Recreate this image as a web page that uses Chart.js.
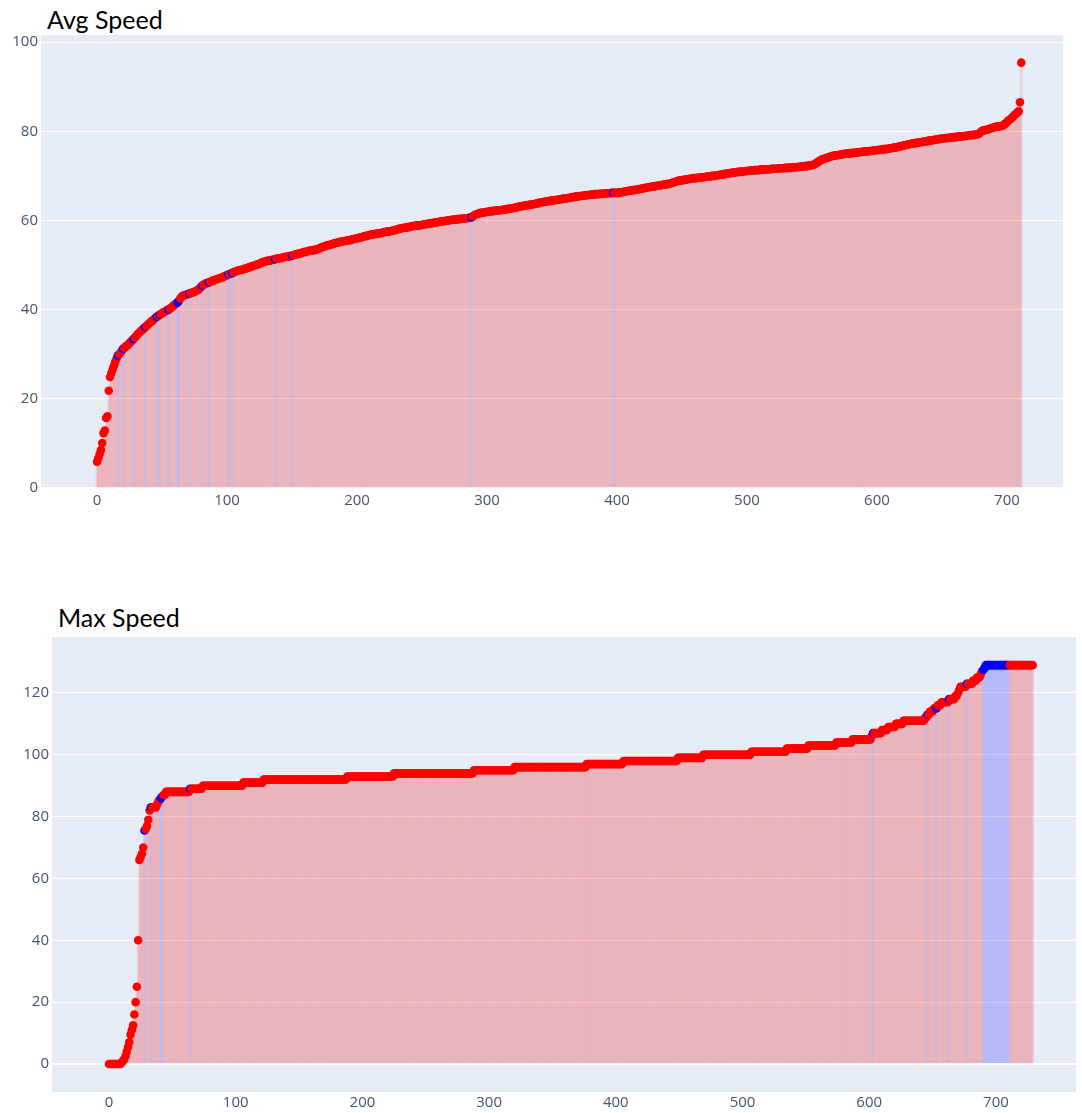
<!DOCTYPE html>
<html>
<head>
<meta charset="utf-8">
<title>Avg Speed / Max Speed</title>
<script src="https://cdn.jsdelivr.net/npm/chart.js@4.4.1/dist/chart.umd.min.js"></script>
<style>
  html, body { margin: 0; padding: 0; background: #ffffff; width: 1082px; height: 1113px; overflow: hidden; }
  canvas { position: absolute; left: 0; }
  .title { position: absolute; font-family: Lato, "Open Sans", sans-serif; font-size: 25px; line-height: 1; color: #000000; white-space: nowrap; }
</style>
</head>
<body>
<div class="title" style="left:47px; top:7px;">Avg Speed</div>
<canvas id="avgChart" width="1082" height="520" style="top:0px;"></canvas>
<div class="title" style="left:58px; top:605px;">Max Speed</div>
<canvas id="maxChart" width="1082" height="553" style="top:560px;"></canvas>
<script>
// Average speed per record, sorted ascending
const avgSpeed = [
5.9,6.7,7.6,8.5,10.1,12.3,12.9,15.7,16.1,21.8,
24.9,25.8,26.6,27.4,28.3,29.0,29.7,30.0,30.4,30.8,
31.2,31.4,31.7,31.9,32.2,32.5,32.8,33.1,33.4,33.7,
34.0,34.4,34.7,35.0,35.3,35.5,35.8,36.1,36.3,36.6,
36.9,37.1,37.4,37.6,37.9,38.2,38.4,38.6,38.8,39.0,
39.2,39.4,39.5,39.7,39.9,40.0,40.2,40.4,40.7,40.9,
41.2,41.4,41.6,42.0,42.5,42.9,43.1,43.2,43.3,43.4,
43.5,43.6,43.7,43.8,43.9,44.0,44.2,44.3,44.5,44.8,
45.1,45.4,45.6,45.8,45.9,46.0,46.1,46.2,46.4,46.5,
46.6,46.7,46.8,46.9,47.0,47.1,47.2,47.3,47.5,47.6,
47.7,47.9,48.0,48.1,48.2,48.4,48.5,48.6,48.7,48.8,
48.9,48.9,49.0,49.1,49.2,49.3,49.4,49.5,49.6,49.7,
49.8,49.9,50.0,50.1,50.2,50.3,50.4,50.6,50.7,50.8,
50.9,50.9,51.0,51.0,51.1,51.2,51.2,51.3,51.4,51.5,
51.5,51.6,51.6,51.7,51.8,51.8,51.9,51.9,52.0,52.0,
52.1,52.2,52.3,52.4,52.5,52.5,52.6,52.7,52.8,52.9,
52.9,53.0,53.1,53.2,53.2,53.3,53.3,53.4,53.4,53.5,
53.6,53.7,53.9,54.0,54.1,54.2,54.3,54.4,54.5,54.5,
54.6,54.7,54.8,54.9,55.0,55.0,55.1,55.2,55.3,55.3,
55.4,55.4,55.5,55.5,55.6,55.6,55.7,55.8,55.9,55.9,
56.0,56.1,56.1,56.2,56.3,56.4,56.5,56.5,56.6,56.7,
56.8,56.8,56.9,56.9,57.0,57.0,57.1,57.1,57.2,57.2,
57.3,57.4,57.4,57.5,57.5,57.6,57.6,57.7,57.8,57.8,
57.9,58.0,58.1,58.2,58.2,58.3,58.3,58.4,58.4,58.5,
58.5,58.6,58.7,58.7,58.8,58.8,58.9,58.9,58.9,59.0,
59.0,59.1,59.1,59.2,59.2,59.3,59.3,59.4,59.4,59.5,
59.5,59.6,59.6,59.7,59.7,59.8,59.8,59.9,59.9,60.0,
60.0,60.0,60.1,60.1,60.2,60.2,60.2,60.3,60.3,60.3,
60.4,60.4,60.4,60.5,60.5,60.5,60.6,60.6,60.7,60.9,
61.1,61.3,61.4,61.5,61.6,61.7,61.7,61.8,61.8,61.9,
61.9,62.0,62.0,62.1,62.1,62.1,62.2,62.2,62.2,62.3,
62.3,62.3,62.4,62.4,62.5,62.5,62.6,62.6,62.7,62.7,
62.8,62.8,62.9,63.0,63.0,63.1,63.2,63.2,63.3,63.3,
63.4,63.4,63.5,63.5,63.6,63.6,63.7,63.7,63.8,63.9,
63.9,64.0,64.1,64.1,64.2,64.2,64.3,64.3,64.4,64.4,
64.5,64.5,64.6,64.6,64.6,64.7,64.7,64.8,64.8,64.9,
64.9,65.0,65.0,65.1,65.1,65.2,65.2,65.3,65.3,65.4,
65.4,65.5,65.5,65.5,65.6,65.6,65.6,65.7,65.7,65.7,
65.8,65.8,65.8,65.9,65.9,65.9,65.9,66.0,66.0,66.0,
66.0,66.1,66.1,66.1,66.1,66.1,66.2,66.2,66.2,66.2,
66.2,66.2,66.3,66.3,66.4,66.4,66.5,66.5,66.6,66.6,
66.7,66.7,66.8,66.8,66.9,66.9,67.0,67.0,67.1,67.1,
67.2,67.3,67.3,67.4,67.4,67.5,67.5,67.6,67.6,67.7,
67.7,67.8,67.8,67.9,67.9,68.0,68.0,68.1,68.1,68.2,
68.2,68.3,68.4,68.5,68.6,68.7,68.8,68.9,69.0,69.0,
69.0,69.1,69.1,69.2,69.2,69.3,69.3,69.4,69.4,69.5,
69.5,69.5,69.6,69.6,69.6,69.7,69.7,69.7,69.8,69.8,
69.8,69.9,69.9,70.0,70.0,70.0,70.1,70.1,70.2,70.2,
70.3,70.3,70.4,70.4,70.5,70.5,70.6,70.6,70.7,70.7,
70.8,70.8,70.8,70.9,70.9,70.9,71.0,71.0,71.0,71.1,
71.1,71.1,71.2,71.2,71.2,71.2,71.3,71.3,71.3,71.3,
71.4,71.4,71.4,71.4,71.5,71.5,71.5,71.5,71.5,71.6,
71.6,71.6,71.6,71.6,71.7,71.7,71.7,71.7,71.7,71.8,
71.8,71.8,71.8,71.8,71.9,71.9,71.9,71.9,72.0,72.0,
72.0,72.1,72.1,72.1,72.2,72.2,72.2,72.3,72.3,72.4,
72.4,72.5,72.6,72.8,73.0,73.2,73.4,73.6,73.7,73.8,
73.9,74.0,74.1,74.2,74.3,74.4,74.5,74.5,74.6,74.6,
74.7,74.7,74.8,74.8,74.9,74.9,75.0,75.0,75.0,75.1,
75.1,75.1,75.2,75.2,75.2,75.3,75.3,75.3,75.4,75.4,
75.4,75.5,75.5,75.5,75.6,75.6,75.6,75.7,75.7,75.7,
75.8,75.8,75.8,75.9,75.9,76.0,76.0,76.0,76.1,76.1,
76.2,76.2,76.3,76.3,76.4,76.4,76.5,76.6,76.6,76.7,
76.8,76.8,76.9,77.0,77.0,77.1,77.2,77.2,77.3,77.3,
77.4,77.4,77.5,77.5,77.6,77.6,77.7,77.7,77.8,77.8,
77.9,77.9,78.0,78.0,78.1,78.1,78.2,78.2,78.3,78.3,
78.4,78.4,78.4,78.5,78.5,78.5,78.6,78.6,78.6,78.7,
78.7,78.7,78.8,78.8,78.8,78.9,78.9,78.9,79.0,79.0,
79.0,79.1,79.1,79.1,79.2,79.2,79.3,79.3,79.4,79.6,
79.9,80.1,80.2,80.3,80.3,80.4,80.5,80.6,80.7,80.8,
80.9,81.0,81.0,81.1,81.1,81.2,81.2,81.3,81.5,81.8,
82.1,82.4,82.6,82.8,83.1,83.4,83.7,83.9,84.2,84.5,
86.5,95.4
];
// Records flagged in blue on the Avg Speed chart
const avgFlagged = [16, 20, 28, 37, 46, 48, 55, 62, 63, 71, 81, 86, 101, 104, 137, 150, 288, 397];

// Maximum speed per record, sorted ascending
const maxSpeed = [
0,0,0,0,0,0,0,0,0,0,
0.5,1,1.5,2.5,4,5.5,7,9.5,11,12.5,
16,20,25,40,66,67,68,70,75.5,76,
77,79,82,83,83,83,83,83,84,85,
85.5,86,86.5,87,87,88,88,88,88,88,
88,88,88,88,88,88,88,88,88,88,
88,88,88,88,89,89,89,89,89,89,
89,89,89,89,90,90,90,90,90,90,
90,90,90,90,90,90,90,90,90,90,
90,90,90,90,90,90,90,90,90,90,
90,90,90,90,90,90,91,91,91,91,
91,91,91,91,91,91,91,91,91,91,
91,91,92,92,92,92,92,92,92,92,
92,92,92,92,92,92,92,92,92,92,
92,92,92,92,92,92,92,92,92,92,
92,92,92,92,92,92,92,92,92,92,
92,92,92,92,92,92,92,92,92,92,
92,92,92,92,92,92,92,92,92,92,
92,92,92,92,92,92,92,92,93,93,
93,93,93,93,93,93,93,93,93,93,
93,93,93,93,93,93,93,93,93,93,
93,93,93,93,93,93,93,93,93,93,
93,93,93,93,93,94,94,94,94,94,
94,94,94,94,94,94,94,94,94,94,
94,94,94,94,94,94,94,94,94,94,
94,94,94,94,94,94,94,94,94,94,
94,94,94,94,94,94,94,94,94,94,
94,94,94,94,94,94,94,94,94,94,
94,94,94,94,94,94,94,94,95,95,
95,95,95,95,95,95,95,95,95,95,
95,95,95,95,95,95,95,95,95,95,
95,95,95,95,95,95,95,95,95,95,
96,96,96,96,96,96,96,96,96,96,
96,96,96,96,96,96,96,96,96,96,
96,96,96,96,96,96,96,96,96,96,
96,96,96,96,96,96,96,96,96,96,
96,96,96,96,96,96,96,96,96,96,
96,96,96,96,96,96,96,97,97,97,
97,97,97,97,97,97,97,97,97,97,
97,97,97,97,97,97,97,97,97,97,
97,97,97,97,97,97,98,98,98,98,
98,98,98,98,98,98,98,98,98,98,
98,98,98,98,98,98,98,98,98,98,
98,98,98,98,98,98,98,98,98,98,
98,98,98,98,98,98,98,98,98,99,
99,99,99,99,99,99,99,99,99,99,
99,99,99,99,99,99,99,99,99,100,
100,100,100,100,100,100,100,100,100,100,
100,100,100,100,100,100,100,100,100,100,
100,100,100,100,100,100,100,100,100,100,
100,100,100,100,100,100,100,101,101,101,
101,101,101,101,101,101,101,101,101,101,
101,101,101,101,101,101,101,101,101,101,
101,101,101,101,101,102,102,102,102,102,
102,102,102,102,102,102,102,102,102,102,
102,102,103,103,103,103,103,103,103,103,
103,103,103,103,103,103,103,103,103,103,
103,103,103,103,104,104,104,104,104,104,
104,104,104,104,104,104,104,105,105,105,
105,105,105,105,105,105,105,105,105,105,
105,105,106,107,107,107,107,107,107,107,
108,108,108,108,108,109,109,109,109,109,
109,110,110,110,110,110,110,111,111,111,
111,111,111,111,111,111,111,111,111,111,
111,111,111,111,112,112,113,113,114,114,
114,115,115,115,116,116,116,117,117,117,
117,117,117,118,118,118,118,118,119,119,
120,121,122,122,122,122,122,123,123,123,
123,123,124,124,124,125,125,125,126,127,
127.5,128,129,129,129,129,129,129,129,129,
129,129,129,129,129,129,129,129,129,129,
129,129,129,129,129,129,129,129,129,129,
129,129,129,129,129,129,129,129,129,129
];
// Records flagged in blue on the Max Speed chart
const maxFlagged = [28, 33, 41, 42, 64, 603, 646, 653, 663, 677, 690, 691,
  692, 693, 694, 695, 696, 697, 698, 699, 700, 701, 702, 703, 704, 705, 706, 707, 708, 709, 710];

// Tick labels along each axis
const xTicks = [0, 100, 200, 300, 400, 500, 600, 700];
const avgYTicks = [0, 20, 40, 60, 80, 100];
const maxYTicks = [0, 20, 40, 60, 80, 100, 120];

const PLOT_BG = '#E5ECF6';
const TICK_COLOR = '#44556f';
const TICK_FONT = { family: '"Open Sans", "DejaVu Sans", sans-serif', size: 15 };

// Paints the plot-area background behind grid and marks
const plotBackground = {
  id: 'plotBackground',
  beforeDraw(chart) {
    const { ctx, chartArea: a } = chart;
    ctx.save();
    ctx.fillStyle = PLOT_BG;
    ctx.fillRect(a.left, a.top, a.right - a.left, a.bottom - a.top);
    ctx.restore();
  }
};

function lollipopChart(canvas, values, flagged, yTicks, frame) {
  const marked = new Set(flagged);
  const points = values.map((v, i) => ({ x: i, y: v }));
  const stemColors = values.map((v, i) => marked.has(i) ? 'rgba(0,0,255,0.11)' : 'rgba(255,0,0,0.12)');
  const dotColors = values.map((v, i) => marked.has(i) ? '#0000ff' : '#ff0000');

  return new Chart(canvas, {
    type: 'bar',
    data: {
      datasets: [
        {
          type: 'scatter',
          data: points,
          showLine: false,
          pointRadius: 4.3,
          pointHoverRadius: 4.3,
          pointBorderWidth: 0,
          pointBackgroundColor: dotColors,
          order: 0
        },
        {
          type: 'bar',
          data: points,
          backgroundColor: stemColors,
          borderWidth: 0,
          barThickness: 2,
          grouped: false,
          order: 1
        }
      ]
    },
    options: {
      responsive: false,
      animation: false,
      events: [],
      layout: { padding: { top: frame.top, right: frame.right, left: 0, bottom: 0 } },
      plugins: { legend: { display: false }, tooltip: { enabled: false }, title: { display: false } },
      scales: {
        x: {
          type: 'linear',
          offset: false,
          min: frame.xMin,
          max: frame.xMax,
          grid: { display: false, drawTicks: false },
          border: { display: false },
          ticks: {
            padding: frame.xPad,
            maxRotation: 0,
            autoSkip: false,
            color: TICK_COLOR,
            font: TICK_FONT
          },
          afterBuildTicks(scale) { scale.ticks = xTicks.map(v => ({ value: v })); },
          afterFit(scale) { scale.height = frame.xAxisHeight; }
        },
        y: {
          type: 'linear',
          min: frame.yMin,
          max: frame.yMax,
          grid: {
            color: '#ffffff',
            lineWidth: (ctx) => (ctx.tick && ctx.tick.value === 0 ? 2 : 1),
            drawTicks: false
          },
          border: { display: false },
          ticks: {
            padding: 3,
            autoSkip: false,
            color: TICK_COLOR,
            font: TICK_FONT
          },
          afterBuildTicks(scale) { scale.ticks = yTicks.map(v => ({ value: v })); },
          afterFit(scale) { scale.width = frame.yAxisWidth; }
        }
      }
    },
    plugins: [plotBackground]
  });
}

lollipopChart(document.getElementById('avgChart'), avgSpeed, avgFlagged, avgYTicks, {
  top: 35, right: 19, yAxisWidth: 41, xAxisHeight: 32, xPad: 4,
  xMin: -43.1, xMax: 743.1, yMin: 0, yMax: 101.6
});

lollipopChart(document.getElementById('maxChart'), maxSpeed, maxFlagged, maxYTicks, {
  top: 77, right: 6, yAxisWidth: 52, xAxisHeight: 21, xPad: 2,
  xMin: -45, xMax: 763.2, yMin: -9.06, yMax: 138.1
});
</script>
</body>
</html>
